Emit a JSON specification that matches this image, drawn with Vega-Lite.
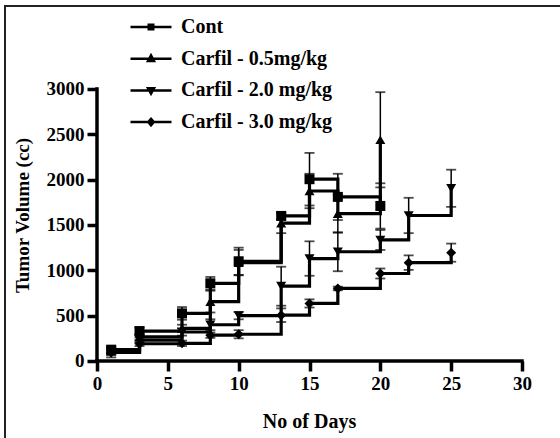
{
  "$schema": "https://vega.github.io/schema/vega-lite/v6.json",
  "width": 560,
  "height": 440,
  "autosize": {"type": "none"},
  "padding": {"left": 5, "top": 6, "right": 0, "bottom": 0},
  "background": "white",
  "config": {
    "view": {"stroke": "#222222", "strokeWidth": 2},
    "font": "Liberation Serif",
    "axis": {
      "domain": false,
      "grid": false,
      "tickColor": "black",
      "tickSize": 10,
      "tickWidth": 3.5,
      "labelFont": "Liberation Serif",
      "labelFontWeight": "bold",
      "labelFontSize": 19,
      "labelColor": "black",
      "labelPadding": 3,
      "labelOverlap": false,
      "titleFont": "Liberation Serif",
      "titleFontWeight": "bold",
      "titleFontSize": 19,
      "titleColor": "black"
    }
  },
  "datasets": {
    "tumor": [
      {"series": "Cont", "day": 1, "vol": 125, "lo": 95, "hi": 155},
      {"series": "Cont", "day": 3, "vol": 330, "lo": 290, "hi": 370},
      {"series": "Cont", "day": 6, "vol": 525, "lo": 455, "hi": 595},
      {"series": "Cont", "day": 8, "vol": 857, "lo": 787, "hi": 927},
      {"series": "Cont", "day": 10, "vol": 1100, "lo": 950, "hi": 1250},
      {"series": "Cont", "day": 13, "vol": 1600, "lo": 1560, "hi": 1640},
      {"series": "Cont", "day": 15, "vol": 2005, "lo": 1715, "hi": 2295},
      {"series": "Cont", "day": 17, "vol": 1810, "lo": 1555, "hi": 2065},
      {"series": "Cont", "day": 20, "vol": 1710, "lo": 1460, "hi": 1960},
      {"series": "Carfil - 0.5mg/kg", "day": 1, "vol": 110, "lo": 80, "hi": 140},
      {"series": "Carfil - 0.5mg/kg", "day": 3, "vol": 265, "lo": 235, "hi": 295},
      {"series": "Carfil - 0.5mg/kg", "day": 6, "vol": 360, "lo": 320, "hi": 400},
      {"series": "Carfil - 0.5mg/kg", "day": 8, "vol": 655, "lo": 535, "hi": 775},
      {"series": "Carfil - 0.5mg/kg", "day": 10, "vol": 1085, "lo": 945, "hi": 1225},
      {"series": "Carfil - 0.5mg/kg", "day": 13, "vol": 1520, "lo": 1410, "hi": 1630},
      {"series": "Carfil - 0.5mg/kg", "day": 15, "vol": 1875, "lo": 1685, "hi": 2065},
      {"series": "Carfil - 0.5mg/kg", "day": 17, "vol": 1625, "lo": 1415, "hi": 1835},
      {"series": "Carfil - 0.5mg/kg", "day": 20, "vol": 2440, "lo": 1915, "hi": 2965},
      {"series": "Carfil - 2.0 mg/kg", "day": 1, "vol": 100, "lo": 40, "hi": 160},
      {"series": "Carfil - 2.0 mg/kg", "day": 3, "vol": 230, "lo": 200, "hi": 260},
      {"series": "Carfil - 2.0 mg/kg", "day": 6, "vol": 320, "lo": 280, "hi": 360},
      {"series": "Carfil - 2.0 mg/kg", "day": 8, "vol": 400, "lo": 340, "hi": 460},
      {"series": "Carfil - 2.0 mg/kg", "day": 10, "vol": 500, "lo": 460, "hi": 540},
      {"series": "Carfil - 2.0 mg/kg", "day": 13, "vol": 825, "lo": 610, "hi": 1040},
      {"series": "Carfil - 2.0 mg/kg", "day": 15, "vol": 1130, "lo": 940, "hi": 1320},
      {"series": "Carfil - 2.0 mg/kg", "day": 17, "vol": 1205, "lo": 990, "hi": 1420},
      {"series": "Carfil - 2.0 mg/kg", "day": 20, "vol": 1335, "lo": 1225, "hi": 1445},
      {"series": "Carfil - 2.0 mg/kg", "day": 22, "vol": 1605, "lo": 1410, "hi": 1800},
      {"series": "Carfil - 2.0 mg/kg", "day": 25, "vol": 1905, "lo": 1700, "hi": 2110},
      {"series": "Carfil - 3.0 mg/kg", "day": 1, "vol": 95, "lo": 65, "hi": 125},
      {"series": "Carfil - 3.0 mg/kg", "day": 3, "vol": 190, "lo": 165, "hi": 215},
      {"series": "Carfil - 3.0 mg/kg", "day": 6, "vol": 195, "lo": 165, "hi": 225},
      {"series": "Carfil - 3.0 mg/kg", "day": 8, "vol": 285, "lo": 255, "hi": 315},
      {"series": "Carfil - 3.0 mg/kg", "day": 10, "vol": 295, "lo": 250, "hi": 340},
      {"series": "Carfil - 3.0 mg/kg", "day": 13, "vol": 505, "lo": 430, "hi": 580},
      {"series": "Carfil - 3.0 mg/kg", "day": 15, "vol": 635, "lo": 590, "hi": 680},
      {"series": "Carfil - 3.0 mg/kg", "day": 17, "vol": 800, "lo": 780, "hi": 820},
      {"series": "Carfil - 3.0 mg/kg", "day": 20, "vol": 965, "lo": 910, "hi": 1020},
      {"series": "Carfil - 3.0 mg/kg", "day": 22, "vol": 1085, "lo": 1005, "hi": 1165},
      {"series": "Carfil - 3.0 mg/kg", "day": 25, "vol": 1195, "lo": 1095, "hi": 1295}
    ],
    "axisLines": [
      {"day": 0, "day2": 30, "vol": 0, "vol2": 0},
      {"day": 0, "day2": 0, "vol": 0, "vol2": 3000}
    ]
  },
  "resolve": {"scale": {"shape": "independent"}, "legend": {"shape": "independent"}},
  "layer": [
    {
      "data": {"name": "tumor"},
      "mark": {"type": "line", "interpolate": "step-after", "color": "black", "strokeWidth": 3.2},
      "encoding": {
        "x": {
          "field": "day", "type": "quantitative",
          "scale": {"domain": [-6.494, 33.035], "nice": false, "zero": false},
          "axis": {"values": [0, 5, 10, 15, 20, 25, 30], "format": "d", "offset": -85, "title": "No of Days", "titleFontSize": 20, "titleX": 304, "titleY": 60, "titleBaseline": "middle", "titleAlign": "center", "zindex": 1}
        },
        "y": {
          "field": "vol", "type": "quantitative",
          "scale": {"domain": [-937.5, 3915.4], "nice": false, "zero": false},
          "axis": {"values": [0, 500, 1000, 1500, 2000, 2500, 3000], "format": "d", "offset": -92, "title": "Tumor Volume (cc)", "titleX": -75, "titleY": 209, "titleBaseline": "middle", "titleAlign": "center", "titleAngle": -90, "zindex": 1}
        },
        "detail": {"field": "series"}
      }
    },
    {
      "data": {"name": "axisLines"},
      "mark": {"type": "rule", "color": "black", "strokeWidth": 3.5, "strokeCap": "square"},
      "encoding": {
        "x": {"field": "day", "type": "quantitative"},
        "x2": {"field": "day2"},
        "y": {"field": "vol", "type": "quantitative"},
        "y2": {"field": "vol2"}
      }
    },
    {
      "data": {"name": "tumor"},
      "mark": {"type": "rule", "color": "black", "strokeWidth": 1.5},
      "encoding": {
        "x": {"field": "day", "type": "quantitative"},
        "y": {"field": "lo", "type": "quantitative"},
        "y2": {"field": "hi"}
      }
    },
    {
      "data": {"name": "tumor"},
      "mark": {"type": "tick", "orient": "horizontal", "size": 10, "thickness": 1.8, "color": "black"},
      "encoding": {
        "x": {"field": "day", "type": "quantitative"},
        "y": {"field": "hi", "type": "quantitative"}
      }
    },
    {
      "data": {"name": "tumor"},
      "mark": {"type": "tick", "orient": "horizontal", "size": 10, "thickness": 1.8, "color": "black"},
      "encoding": {
        "x": {"field": "day", "type": "quantitative"},
        "y": {"field": "lo", "type": "quantitative"}
      }
    },
    {
      "data": {"name": "tumor"},
      "mark": {"type": "point", "filled": true, "color": "black", "opacity": 1, "size": 100},
      "encoding": {
        "x": {"field": "day", "type": "quantitative"},
        "y": {"field": "vol", "type": "quantitative"},
        "shape": {
          "field": "series", "type": "nominal",
          "scale": {
            "domain": ["Cont", "Carfil - 0.5mg/kg", "Carfil - 2.0 mg/kg", "Carfil - 3.0 mg/kg"],
            "range": ["square", "triangle-up", "triangle-down", "diamond"]
          },
          "legend": null
        }
      }
    },
    {
      "data": {"name": "tumor"},
      "transform": [{"filter": "datum.day < 0"}],
      "mark": {"type": "point", "filled": false, "color": "black", "strokeWidth": 2.5, "opacity": 1, "size": 100},
      "encoding": {
        "x": {"field": "day", "type": "quantitative"},
        "y": {"field": "vol", "type": "quantitative"},
        "shape": {
          "field": "series", "type": "nominal",
          "scale": {
            "domain": ["Cont", "Carfil - 0.5mg/kg", "Carfil - 2.0 mg/kg", "Carfil - 3.0 mg/kg"],
            "range": [
              "M-4.1,0H4.1M-0.45,-0.45H0.45V0.45H-0.45Z",
              "M-4.1,0H4.1M0,-0.65L0.6,0.45H-0.6Z",
              "M-4.1,0H4.1M0,0.65L0.6,-0.45H-0.6Z",
              "M-4.1,0H4.1M0,-0.65L0.55,0L0,0.65L-0.55,0Z"
            ]
          },
          "legend": {
            "orient": "none",
            "legendX": 136,
            "legendY": 11,
            "title": null,
            "padding": 0,
            "symbolSize": 100,
            "symbolFillColor": "black",
            "symbolStrokeColor": "black",
            "symbolStrokeWidth": 2.5,
            "symbolOpacity": 1,
            "labelFont": "Liberation Serif",
            "labelFontWeight": "bold",
            "labelFontSize": 20,
            "labelColor": "black",
            "labelOffset": 20,
            "rowPadding": 11.7
          }
        }
      }
    }
  ]
}
